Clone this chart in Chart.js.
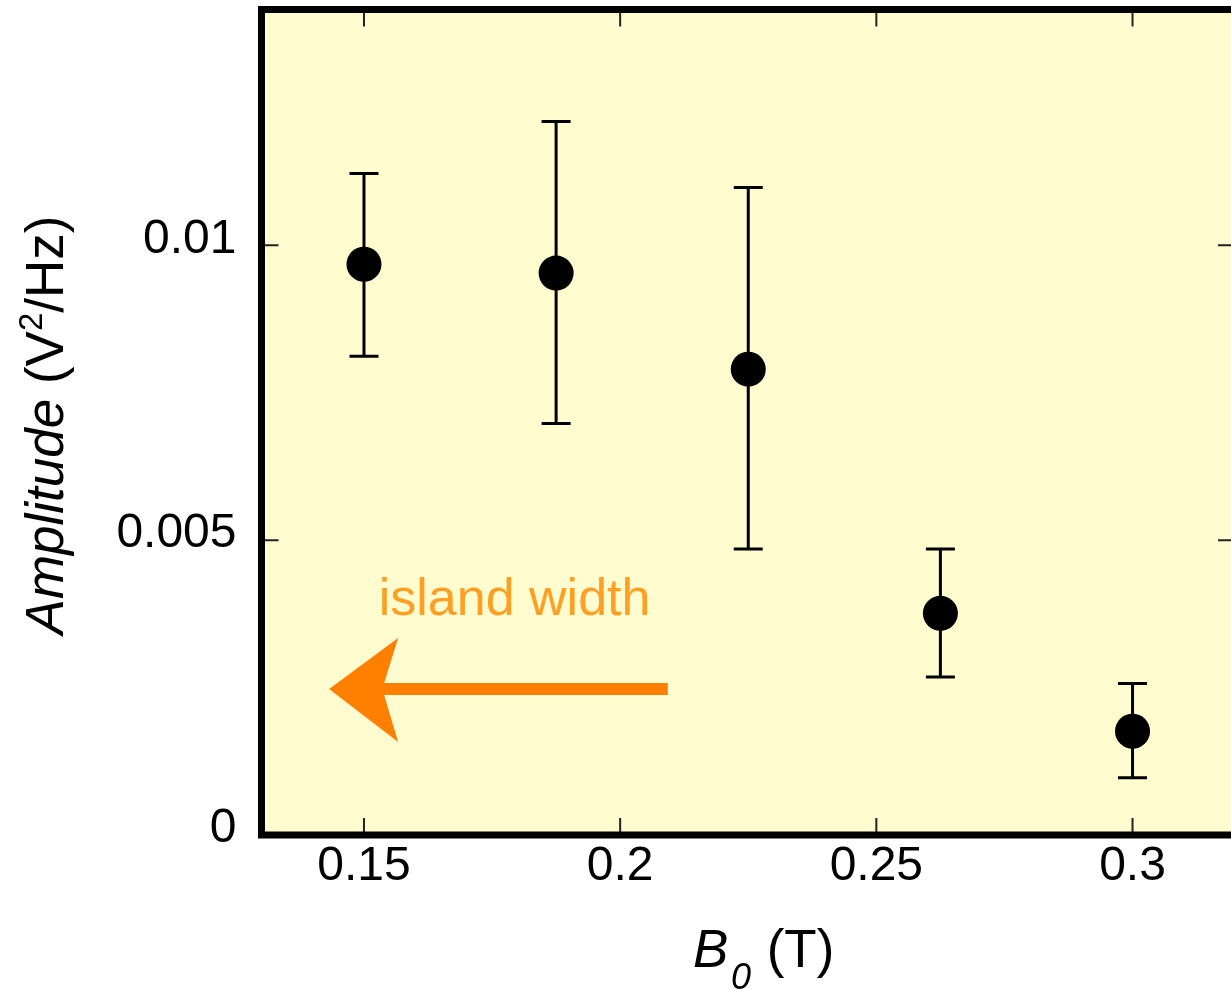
<!DOCTYPE html>
<html lang="en">
<head>
<meta charset="UTF-8">
<title>Amplitude vs B0</title>
<script src="https://cdn.jsdelivr.net/npm/chart.js"></script>
<style>
  html, body { margin: 0; padding: 0; overflow: hidden; background: #fff; }
  canvas { display: block; }
</style>
</head>
<body>
<canvas id="chart" width="1240" height="989"></canvas>
<script>
// values
const bField = [0.15, 0.1875, 0.225, 0.2625, 0.3];
const amplitude = [0.00968, 0.00953, 0.00790, 0.00376, 0.00176];
const errLow = [0.00812, 0.00698, 0.00485, 0.00268, 0.00097];
const errHigh = [0.01122, 0.01210, 0.01098, 0.00485, 0.00257];

const xTicks = [0.15, 0.2, 0.25, 0.3];
const xTickLabels = ['0.15', '0.2', '0.25', '0.3'];
const yTicks = [0, 0.005, 0.01];
const yTickLabels = ['0', '0.005', '0.01'];

// annotation: arrow pointing to smaller B0, in data units
const arrowFrom = [0.2093, 0.002475];
const arrowTo = [0.1432, 0.002475];
const noteText = 'island width';
const notePos = [0.1794, 0.00373];

const FONT = "'Liberation Sans', Arial, Helvetica, sans-serif";
Chart.defaults.font.family = FONT;
Chart.defaults.color = '#000';

// cream plot background
const plotBackground = {
  id: 'plotBackground',
  beforeDraw(chart) {
    const { ctx, chartArea: a } = chart;
    ctx.save();
    ctx.fillStyle = '#FFFCCF';
    ctx.fillRect(a.left, a.top, a.right - a.left, a.bottom - a.top);
    ctx.restore();
  }
};

// vertical error bars with caps
const errorBars = {
  id: 'errorBars',
  beforeDatasetsDraw(chart) {
    const { ctx, scales: { x, y } } = chart;
    ctx.save();
    ctx.strokeStyle = '#000';
    ctx.lineWidth = 3;
    bField.forEach((b, i) => {
      const px = x.getPixelForValue(b);
      const lo = y.getPixelForValue(errLow[i]);
      const hi = y.getPixelForValue(errHigh[i]);
      ctx.beginPath();
      ctx.moveTo(px, lo); ctx.lineTo(px, hi);
      ctx.moveTo(px - 14.5, lo); ctx.lineTo(px + 14.5, lo);
      ctx.moveTo(px - 14.5, hi); ctx.lineTo(px + 14.5, hi);
      ctx.stroke();
    });
    ctx.restore();
  }
};

// inward ticks, heavy frame, annotation and axis titles
const frame = {
  id: 'frame',
  afterDraw(chart) {
    const { ctx, chartArea: a, scales: { x, y } } = chart;
    ctx.save();

    ctx.strokeStyle = '#222';
    ctx.lineWidth = 2;
    ctx.beginPath();
    xTicks.forEach(v => {
      const px = x.getPixelForValue(v);
      ctx.moveTo(px, a.bottom); ctx.lineTo(px, a.bottom - 17);
      ctx.moveTo(px, a.top); ctx.lineTo(px, a.top + 17);
    });
    yTicks.forEach(v => {
      const py = y.getPixelForValue(v);
      ctx.moveTo(a.left, py); ctx.lineTo(a.left + 17, py);
      ctx.moveTo(a.right, py); ctx.lineTo(a.right - 17, py);
    });
    ctx.stroke();

    ctx.strokeStyle = '#000';
    ctx.lineWidth = 7;
    ctx.strokeRect(a.left, a.top, a.right - a.left, a.bottom - a.top);

    // arrow
    const x0 = x.getPixelForValue(arrowFrom[0]);
    const x1 = x.getPixelForValue(arrowTo[0]);
    const ya = y.getPixelForValue(arrowTo[1]);
    ctx.fillStyle = '#FF8000';
    ctx.beginPath();
    ctx.moveTo(x1, ya);
    ctx.lineTo(x1 + 69, ya - 51);
    ctx.lineTo(x1 + 55, ya - 6);
    ctx.lineTo(x0, ya - 6);
    ctx.lineTo(x0, ya + 6);
    ctx.lineTo(x1 + 55, ya + 6);
    ctx.lineTo(x1 + 69, ya + 53);
    ctx.closePath();
    ctx.fill();

    ctx.fillStyle = '#FFA024';
    ctx.font = '52px ' + FONT;
    ctx.textAlign = 'center';
    ctx.textBaseline = 'alphabetic';
    ctx.fillText(noteText, x.getPixelForValue(notePos[0]), y.getPixelForValue(notePos[1]));

    // y title: Amplitude (V^2/Hz)
    ctx.fillStyle = '#000';
    ctx.textAlign = 'left';
    const parts = [
      { t: 'Amplitude', f: 'italic 53px ' + FONT, dy: 0 },
      { t: ' (V', f: '53px ' + FONT, dy: 0 },
      { t: '2', f: '33px ' + FONT, dy: -21 },
      { t: '/Hz)', f: '53px ' + FONT, dy: 0 }
    ];
    let total = 0;
    parts.forEach(p => { ctx.font = p.f; p.w = ctx.measureText(p.t).width; total += p.w; });
    ctx.save();
    ctx.translate(63, 425);
    ctx.rotate(-Math.PI / 2);
    let cx = -total / 2;
    parts.forEach(p => { ctx.font = p.f; ctx.fillText(p.t, cx, p.dy); cx += p.w; });
    ctx.restore();

    // x title: B0 (T)
    ctx.font = 'italic 53px ' + FONT;
    ctx.fillText('B', 693, 967);
    ctx.font = 'italic 36px ' + FONT;
    ctx.fillText('0', 731, 989);
    ctx.font = '53px ' + FONT;
    ctx.fillText(' (T)', 752, 967);

    ctx.restore();
  }
};

new Chart(document.getElementById('chart'), {
  type: 'scatter',
  data: {
    datasets: [{
      data: bField.map((b, i) => ({ x: b, y: amplitude[i] })),
      backgroundColor: '#000',
      borderWidth: 0,
      pointRadius: 17.5
    }]
  },
  options: {
    responsive: false,
    animation: false,
    events: [],
    layout: { autoPadding: false, padding: { top: 9.5, right: 5, left: 0, bottom: 0 } },
    plugins: { legend: { display: false }, tooltip: { enabled: false } },
    scales: {
      x: {
        type: 'linear',
        min: 0.13,
        max: 0.32,
        grid: { display: false, drawTicks: false },
        border: { display: false },
        afterBuildTicks: s => { s.ticks = xTicks.map(v => ({ value: v })); },
        afterFit: s => { s.height = 154; s.paddingLeft = 0; s.paddingRight = 0; },
        ticks: {
          padding: 3,
          maxRotation: 0,
          font: { size: 48 },
          color: '#000',
          callback: (v, i) => xTickLabels[i]
        }
      },
      y: {
        type: 'linear',
        min: 0,
        max: 0.014,
        grid: { display: false, drawTicks: false },
        border: { display: false },
        afterBuildTicks: s => { s.ticks = yTicks.map(v => ({ value: v })); },
        afterFit: s => { s.width = 261.5; s.paddingTop = 0; s.paddingBottom = 0; },
        ticks: {
          padding: 25,
          labelOffset: -6,
          font: { size: 48 },
          color: '#000',
          callback: (v, i) => yTickLabels[i]
        }
      }
    }
  },
  plugins: [plotBackground, errorBars, frame]
});
</script>
</body>
</html>
